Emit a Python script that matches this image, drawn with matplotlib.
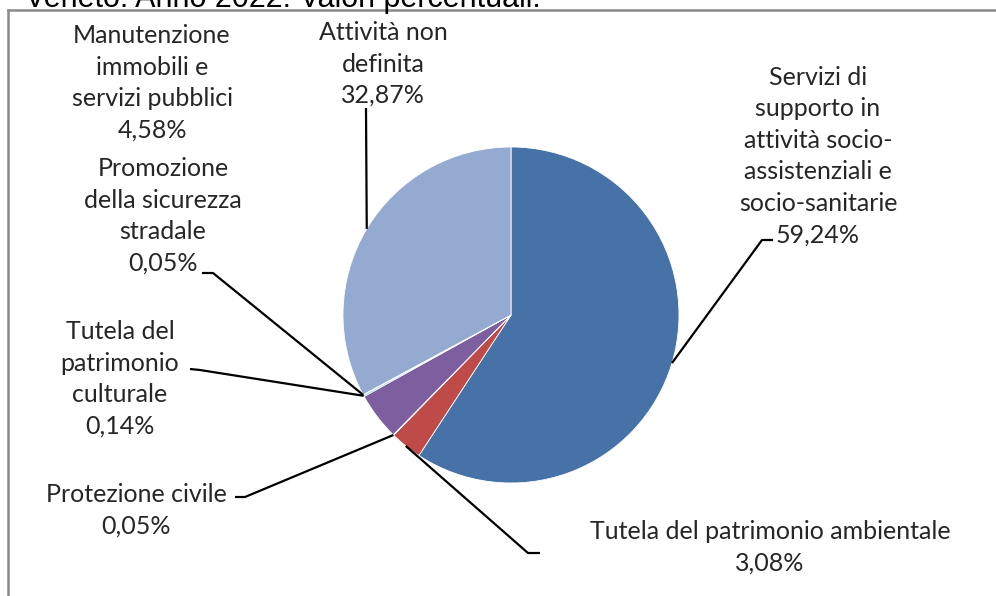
import matplotlib
matplotlib.use("Agg")
import matplotlib.pyplot as plt
import numpy as np
from matplotlib.lines import Line2D

W, H = 996, 596

categories = [
    "Servizi di\nsupporto in\nattività socio-\nassistenziali e\nsocio-sanitarie",
    "Tutela del patrimonio ambientale",
    "Protezione civile",
    "Manutenzione\nimmobili e\nservizi pubblici",
    "Tutela del\npatrimonio\nculturale",
    "Promozione\ndella sicurezza\nstradale",
    "Attività non\ndefinita",
]
values = [59.24, 3.08, 0.05, 4.58, 0.14, 0.05, 32.87]
value_labels = ["59,24%", "3,08%", "0,05%", "4,58%", "0,14%", "0,05%", "32,87%"]
colors = ["#4672A8", "#BE4B48", "#9BBB59", "#7D5FA0", "#4BACC6", "#F79646", "#94AAD1"]
title = "Veneto. Anno 2022. Valori percentuali."

FONT = "Lato"

fig = plt.figure(figsize=(W / 100, H / 100), dpi=100)
fig.patch.set_facecolor("white")
ax = fig.add_axes([0, 0, 1, 1])

cx, cy_px, R = 511, 315, 168
center = (cx, H - cy_px)

wedges, _ = ax.pie(values, colors=colors, startangle=90, counterclock=False,
                   center=center, radius=R, frame=True,
                   wedgeprops=dict(edgecolor="white", linewidth=0.6))
ax.set_xlim(0, W)
ax.set_ylim(0, H)
ax.set_aspect("equal")
ax.axis("off")

# label layout: (center x px, center y px, start-of-leader (px), elbow (px)) ; None = no leader
layout = [
    (818, 156, (773, 240), (762, 240)),
    (770, 547, (540, 553), (528, 553)),
    (136, 510, (235, 497), (245, 497)),
    (152, 83, None, None),
    (120, 379, (190, 369), (200, 370)),
    (163, 216, (202, 273), (213, 273)),
    (383, 64, (366, 108), (366, 108)),
]

for w, cat, vl, (lx, ly, start, elbow) in zip(wedges, categories, value_labels, layout):
    ax.text(lx, H - ly, cat + "\n" + vl, ha="center", va="center",
            fontsize=18, family=FONT, color="#262626", linespacing=1.45)
    if start is None:
        continue
    ang = np.deg2rad((w.theta1 + w.theta2) / 2)
    px = center[0] + R * np.cos(ang)
    py = center[1] + R * np.sin(ang)
    ax.plot([start[0], elbow[0], px], [H - start[1], H - elbow[1], py],
            color="black", lw=1.6, solid_capstyle="butt")

# cropped title at top (the reference shows only its lower part)
fig.text(25 / W, 1 - 7 / H, title, ha="left", va="baseline",
         fontsize=22, family="Liberation Sans", color="black")

# chart border (top and left visible)
fig.add_artist(Line2D([8 / W, 1.0], [1 - 10 / H, 1 - 10 / H], color="#8a8a8a", lw=1.8,
                      transform=fig.transFigure))
fig.add_artist(Line2D([8 / W, 8 / W], [0, 1 - 10 / H], color="#8a8a8a", lw=1.8,
                      transform=fig.transFigure))

fig.savefig("out.png", dpi=100)
